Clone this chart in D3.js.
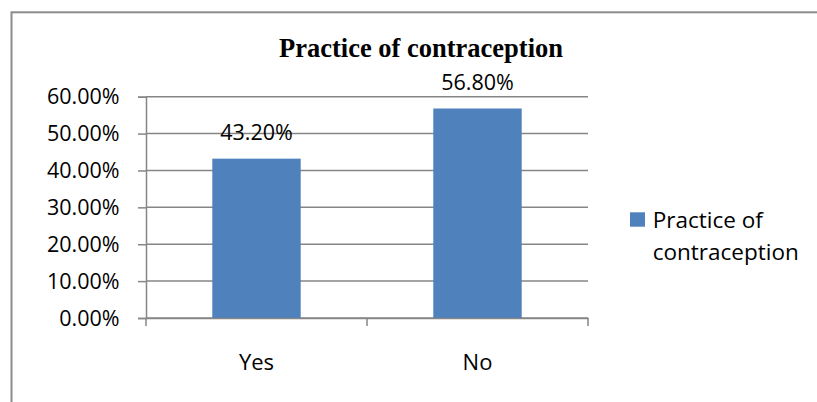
<!DOCTYPE html>
<html>
<head>
<meta charset="utf-8">
<script src="https://cdn.jsdelivr.net/npm/d3@7"></script>
<style>
  html, body { margin: 0; padding: 0; background: #fff; }
  svg { display: block; }
</style>
</head>
<body>
<svg id="chart" width="817" height="402"></svg>
<script>
const categories = ["Yes", "No"];
const values = [0.432, 0.568];
const valueLabels = ["43.20%", "56.80%"];
const yTickValues = [0, 0.1, 0.2, 0.3, 0.4, 0.5, 0.6];
const seriesName = "Practice of contraception";
const legendLines = ["Practice of", "contraception"];
const chartTitle = "Practice of contraception";

(function () {
const svg = d3.select("#chart");
const W = 817, H = 402;
const plotLeft = 146, plotRight = 588, plotTop = 96.7, plotBottom = 318;
const gray = "#868686";
const barColor = "#4f81bd";
const font = "'Open Sans', sans-serif";

// outer border
svg.append("rect")
  .attr("x", 11.5).attr("y", 12.3)
  .attr("width", W + 20).attr("height", H + 20)
  .attr("fill", "#fff").attr("stroke", "#8c8c8c").attr("stroke-width", 2);

const x = d3.scaleBand().domain(categories).range([plotLeft, plotRight])
  .paddingInner(0.6).paddingOuter(0.3);
const y = d3.scaleLinear().domain([0, 0.6]).range([plotBottom, plotTop]);

// gridlines
svg.append("g").selectAll("line").data(yTickValues).join("line")
  .attr("x1", plotLeft).attr("x2", plotRight)
  .attr("y1", d => y(d)).attr("y2", d => y(d))
  .attr("stroke", gray).attr("stroke-width", 1.5);

// bars
svg.append("g").selectAll("rect").data(values).join("rect")
  .attr("x", (d, i) => x(categories[i]))
  .attr("width", x.bandwidth())
  .attr("y", d => y(d))
  .attr("height", d => y(0) - y(d))
  .attr("fill", barColor);

// value labels
svg.append("g").selectAll("text").data(values).join("text")
  .attr("x", (d, i) => x(categories[i]) + x.bandwidth() / 2)
  .attr("y", d => y(d) - 19)
  .attr("text-anchor", "middle")
  .attr("font-family", font).attr("font-size", 21.5).attr("fill", "#000")
  .text((d, i) => valueLabels[i]);

// y axis
const yAxis = d3.axisLeft(y).tickValues(yTickValues)
  .tickFormat(d3.format(".2%")).tickSize(8).tickPadding(18.5);
const gy = svg.append("g").attr("transform", `translate(${plotLeft},0)`).call(yAxis);
gy.select(".domain").attr("stroke", gray).attr("stroke-width", 1.5);
gy.selectAll(".tick line").attr("stroke", gray).attr("stroke-width", 1.5);
gy.selectAll(".tick text").attr("font-family", font).attr("font-size", 21.5)
  .attr("fill", "#000").attr("dy", "0.33em");

// x axis
const xAxis = d3.axisBottom(x).tickSize(0).tickPadding(36);
const gx = svg.append("g").attr("transform", `translate(0,${plotBottom})`).call(xAxis);
gx.select(".domain").attr("stroke", gray).attr("stroke-width", 1.5);
gx.selectAll(".tick text").attr("font-family", font).attr("font-size", 22).attr("fill", "#000");
// band boundary ticks
const boundaries = [plotLeft].concat(categories.map(c => x(c) - x.step() * x.paddingInner() / 2 + x.step()));
gx.append("g").selectAll("line").data(boundaries).join("line")
  .attr("x1", d => d).attr("x2", d => d)
  .attr("y1", 0).attr("y2", 8)
  .attr("stroke", gray).attr("stroke-width", 1.5);

// title
svg.append("text")
  .attr("x", 421).attr("y", 57.3)
  .attr("text-anchor", "middle")
  .attr("font-family", "'Liberation Serif', 'Times New Roman', serif")
  .attr("font-weight", "bold").attr("font-size", 26.5)
  .attr("fill", "#000")
  .text(chartTitle);

// legend
const lg = svg.append("g").attr("transform", "translate(630,212.3)");
lg.append("rect").attr("width", 15).attr("height", 14.4).attr("fill", barColor);
lg.append("text")
  .attr("font-family", font).attr("font-size", 22.5).attr("fill", "#000")
  .selectAll("tspan").data(legendLines).join("tspan")
  .attr("x", 22.7).attr("y", (d, i) => 16 + i * 31.7)
  .text(d => d);
})();
</script>
</body>
</html>
